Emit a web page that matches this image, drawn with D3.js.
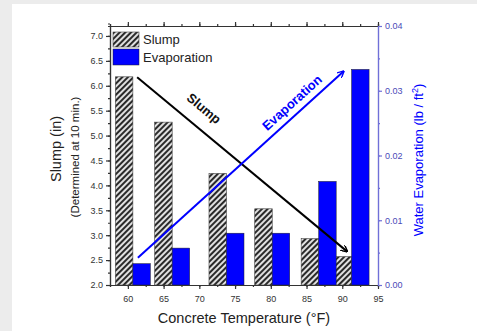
<!DOCTYPE html>
<html>
<head>
<meta charset="utf-8">
<script src="https://cdn.jsdelivr.net/npm/d3@7"></script>
<style>
  body { margin: 0; background: #ececec; }
  svg { display: block; font-family: Arial, "Liberation Sans", sans-serif; }
</style>
</head>
<body>
<svg id="chart" width="477" height="331"></svg>
<script>
// measured concrete temperature of each pair of bars (°F)
const temps = [60.7, 66.2, 73.8, 80.2, 86.7, 91.3]
const slump = [6.18, 5.27, 4.24, 3.53, 2.93, 2.57]
const evaporation = [0.0033, 0.0057, 0.0080, 0.0080, 0.0160, 0.0333]
const xTicks = [60, 65, 70, 75, 80, 85, 90, 95]
const slumpTicks = [2.0, 2.5, 3.0, 3.5, 4.0, 4.5, 5.0, 5.5, 6.0, 6.5, 7.0]
const evapTicks = [0.00, 0.01, 0.02, 0.03, 0.04]
// trend arrows [x, y] in data units
const slumpArrow = [[61.3, 6.17], [90.7, 2.67]]
const evapArrow = [[61.4, 0.0042], [90.2, 0.0330]]

const svg = d3.select('#chart')
const width = 477, height = 331
const margin = { top: 26, right: 99, bottom: 46, left: 110 }
const barW = 2.45

// white panel over the textured page
svg.append('rect').attr('x', 12).attr('y', 4).attr('width', width - 12).attr('height', height - 4).attr('fill', '#fff')

const x = d3.scaleLinear().domain([57.5, 95]).range([margin.left, width - margin.right])
const yL = d3.scaleLinear().domain([2, 7.2]).range([height - margin.bottom, margin.top])
const yR = d3.scaleLinear().domain([0, 0.04]).range([height - margin.bottom, margin.top])

const defs = svg.append('defs')
const pat = defs.append('pattern').attr('id', 'hatch').attr('patternUnits', 'userSpaceOnUse')
  .attr('width', 4).attr('height', 4).attr('patternTransform', 'rotate(45)')
pat.append('rect').attr('width', 4).attr('height', 4).attr('fill', '#e0e0e0')
pat.append('rect').attr('width', 2).attr('height', 4).attr('fill', '#2a2a2a')

const arrowB = defs.append('marker').attr('id', 'arrB').attr('viewBox', '0 0 10 10')
  .attr('refX', 9).attr('refY', 5).attr('markerWidth', 7).attr('markerHeight', 7)
  .attr('markerUnits', 'userSpaceOnUse').attr('orient', 'auto')
arrowB.append('path').attr('d', 'M0,0 L10,5 L0,10').attr('fill', 'none').attr('stroke', '#000').attr('stroke-width', 2)
const arrowU = defs.append('marker').attr('id', 'arrU').attr('viewBox', '0 0 10 10')
  .attr('refX', 9).attr('refY', 5).attr('markerWidth', 7).attr('markerHeight', 7)
  .attr('markerUnits', 'userSpaceOnUse').attr('orient', 'auto')
arrowU.append('path').attr('d', 'M0,0 L10,5 L0,10').attr('fill', 'none').attr('stroke', '#0000ff').attr('stroke-width', 2)

// bars
svg.append('g').selectAll('rect').data(temps).join('rect')
  .attr('x', d => x(d - barW))
  .attr('width', d => x(d) - x(d - barW))
  .attr('y', (d, i) => yL(slump[i]))
  .attr('height', (d, i) => yL(2) - yL(slump[i]))
  .attr('fill', 'url(#hatch)')
  .attr('stroke', '#444').attr('stroke-width', 0.6)

svg.append('g').selectAll('rect').data(temps).join('rect')
  .attr('x', d => x(d))
  .attr('width', d => x(d + barW) - x(d))
  .attr('y', (d, i) => yR(evaporation[i]))
  .attr('height', (d, i) => yR(0) - yR(evaporation[i]))
  .attr('fill', '#0000ff')
  .attr('stroke', '#222').attr('stroke-width', 0.5)

// axes
const axisColor = '#333'
function minor(scale, step) {
  const [a, b] = scale.domain()
  return d3.range(Math.ceil(a / step) * step, b + step / 2, step)
}
const gx = svg.append('g').attr('transform', `translate(0,${height - margin.bottom})`)
  .call(d3.axisBottom(x).tickValues(xTicks).tickSize(4).tickSizeOuter(0).tickFormat(d3.format('d')))
gx.append('g').call(d3.axisBottom(x).tickValues(minor(x, 2.5)).tickSize(2).tickFormat(''))
const gt = svg.append('g').attr('transform', `translate(0,${margin.top})`)
  .call(d3.axisTop(x).tickValues(xTicks).tickSize(4).tickSizeOuter(0).tickFormat(''))
gt.append('g').call(d3.axisTop(x).tickValues(minor(x, 2.5)).tickSize(2).tickFormat(''))
const gl = svg.append('g').attr('transform', `translate(${margin.left},0)`)
  .call(d3.axisLeft(yL).tickValues(slumpTicks).tickSize(4).tickSizeOuter(0).tickFormat(d3.format('.1f')))
gl.append('g').call(d3.axisLeft(yL).tickValues(minor(yL, 0.25)).tickSize(2).tickFormat(''))
const gr = svg.append('g').attr('transform', `translate(${width - margin.right},0)`)
  .call(d3.axisRight(yR).tickValues(evapTicks).tickSize(4).tickSizeOuter(0).tickFormat(d3.format('.2f')))
gr.append('g').call(d3.axisRight(yR).tickValues(minor(yR, 0.005)).tickSize(2).tickFormat(''))

for (const g of [gx, gt, gl]) {
  g.selectAll('path, line').attr('stroke', axisColor).attr('stroke-width', 1.2)
  g.selectAll('text').attr('fill', '#333').attr('font-size', 9)
}
gx.selectAll('text').attr('dy', '1.1em')
gr.selectAll('path, line').attr('stroke', '#7070d8').attr('stroke-width', 1.2)
gr.selectAll('text').attr('fill', '#4a4ab8').attr('font-size', 9)

// trend arrows
svg.append('line')
  .attr('x1', x(slumpArrow[0][0])).attr('y1', yL(slumpArrow[0][1]))
  .attr('x2', x(slumpArrow[1][0])).attr('y2', yL(slumpArrow[1][1]))
  .attr('stroke', '#000').attr('stroke-width', 2).attr('marker-end', 'url(#arrB)')
svg.append('line')
  .attr('x1', x(evapArrow[0][0])).attr('y1', yR(evapArrow[0][1]))
  .attr('x2', x(evapArrow[1][0])).attr('y2', yR(evapArrow[1][1]))
  .attr('stroke', '#0000ff').attr('stroke-width', 2).attr('marker-end', 'url(#arrU)')

const sAng = Math.atan2(yL(slumpArrow[1][1]) - yL(slumpArrow[0][1]), x(slumpArrow[1][0]) - x(slumpArrow[0][0])) * 180 / Math.PI
const eAng = Math.atan2(yR(evapArrow[1][1]) - yR(evapArrow[0][1]), x(evapArrow[1][0]) - x(evapArrow[0][0])) * 180 / Math.PI
svg.append('text').attr('transform', `translate(201,112) rotate(${sAng})`)
  .attr('text-anchor', 'middle').attr('font-size', 13).attr('font-weight', 'bold').attr('fill', '#111').text('Slump')
svg.append('text').attr('transform', `translate(295,106) rotate(${eAng})`)
  .attr('text-anchor', 'middle').attr('font-size', 13).attr('font-weight', 'bold').attr('fill', '#0000ff').text('Evaporation')

// legend
const lg = svg.append('g').attr('transform', 'translate(113,32)')
lg.append('rect').attr('width', 26).attr('height', 15).attr('fill', 'url(#hatch)').attr('stroke', '#444').attr('stroke-width', 0.6)
lg.append('rect').attr('y', 17).attr('width', 26).attr('height', 16).attr('fill', '#0000ff').attr('stroke', '#222').attr('stroke-width', 0.5)
lg.append('text').attr('x', 30).attr('y', 12).attr('font-size', 13).attr('fill', '#222').text('Slump')
lg.append('text').attr('x', 30).attr('y', 30).attr('font-size', 13).attr('fill', '#222').text('Evaporation')

// axis titles
svg.append('text').attr('transform', 'translate(61,149) rotate(-90)').attr('text-anchor', 'middle')
  .attr('font-size', 14.5).attr('fill', '#222').text('Slump (in)')
svg.append('text').attr('transform', 'translate(79,157) rotate(-90)').attr('text-anchor', 'middle')
  .attr('font-size', 11.5).attr('fill', '#222').text('(Determined at 10 min.)')
svg.append('text').attr('x', 244).attr('y', 323).attr('text-anchor', 'middle')
  .attr('font-size', 14.5).attr('fill', '#222').text('Concrete Temperature (°F)')
const rt = svg.append('text').attr('transform', 'translate(423,160) rotate(-90)').attr('text-anchor', 'middle')
  .attr('font-size', 13).attr('fill', '#0000ff')
rt.append('tspan').text('Water Evaporation (lb / ft')
rt.append('tspan').attr('dy', -5).attr('font-size', 9).text('2')
rt.append('tspan').attr('dy', 5).text(')')
</script>
</body>
</html>
